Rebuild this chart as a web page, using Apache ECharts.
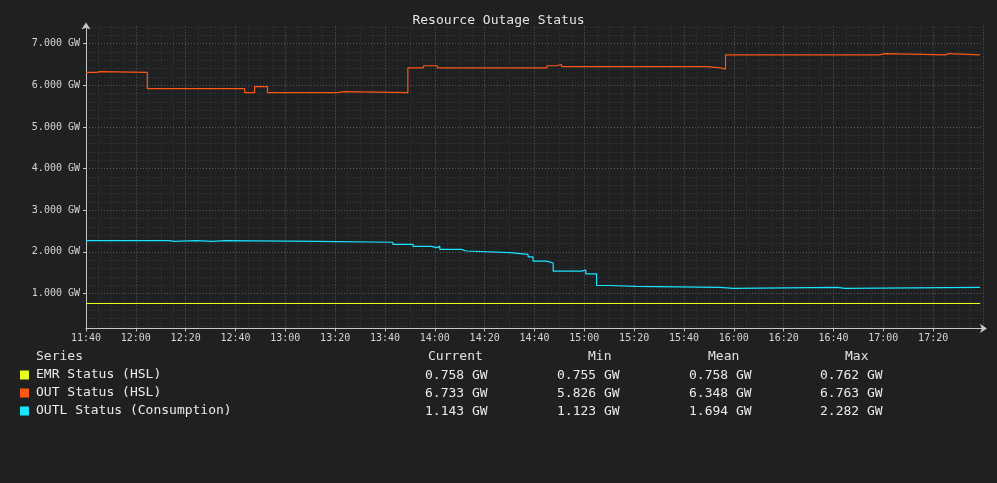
<!DOCTYPE html>
<html>
<head>
<meta charset="utf-8">
<script src="https://cdn.jsdelivr.net/npm/echarts@6/dist/echarts.min.js"></script>
<style>
html,body{margin:0;padding:0;background:#1f2022;}
#chart{width:997px;height:483px;}
</style>
</head>
<body>
<div id="chart"></div>
<script>
// ---- data ----
const seriesNames = ['EMR Status (HSL)', 'OUT Status (HSL)', 'OUTL Status (Consumption)'];
const seriesColors = ['#e8ff1c', '#ff5614', '#1ae4ff'];

const emrTimes  = ['11:40:00', '17:38:50'];
const emrValues = [0.758, 0.758];

const outTimes  = ['11:40:00','11:44:20','11:45:30','12:04:36','12:43:40','12:47:40','12:52:50','13:20:40','13:23:50',
                   '13:49:10','13:55:30','14:01:00','14:45:00','14:48:40','14:50:50','15:49:00','15:54:40','15:56:40',
                   '16:49:40','16:50:10','16:58:20','17:00:40','17:25:10','17:26:00','17:38:50'];
const outValues = [6.31, 6.33, 6.31, 5.92, 5.826, 5.97, 5.826, 5.85, 5.826,
                   6.42, 6.47, 6.42, 6.47, 6.50, 6.45, 6.42, 6.39, 6.733,
                   6.763, 6.733, 6.763, 6.733, 6.763, 6.733, 6.733];

const outlTimes  = ['11:40:00','11:59:40','12:00:20','12:04:36','12:05:20','12:13:20','12:15:20','12:24:10','12:30:50',
                    '12:35:40','13:12:30','13:43:10','13:51:15','13:58:40','14:00:40','14:02:00','14:10:40','14:12:40',
                    '14:30:05','14:37:25','14:39:25','14:44:50','14:47:30','14:58:50','15:00:35','15:04:55','15:10:15',
                    '15:21:00','15:54:25','15:59:50','16:41:30','16:44:35','17:38:50'];
const outlValues = [2.27, 2.26, 2.27, 2.282, 2.27, 2.25, 2.27, 2.25, 2.27,
                    2.25, 2.23, 2.18, 2.13, 2.10, 2.13, 2.06, 2.02, 1.98,
                    1.94, 1.88, 1.775, 1.73, 1.535, 1.56, 1.47, 1.19, 1.17,
                    1.145, 1.123, 1.145, 1.123, 1.145, 1.143];

const statHeaders = ['Current', 'Min', 'Mean', 'Max'];
const statCurrent = ['0.758 GW', '6.733 GW', '1.143 GW'];
const statMin     = ['0.755 GW', '5.826 GW', '1.123 GW'];
const statMean    = ['0.758 GW', '6.348 GW', '1.694 GW'];
const statMax     = ['0.762 GW', '6.763 GW', '2.282 GW'];

const yMajorTicks = [1, 2, 3, 4, 5, 6, 7];
const yMinorTicks = [0.2, 0.4, 0.6, 0.8, 1.2, 1.4, 1.6, 1.8, 2.2, 2.4, 2.6, 2.8, 3.2, 3.4, 3.6, 3.8,
                     4.2, 4.4, 4.6, 4.8, 5.2, 5.4, 5.6, 5.8, 6.2, 6.4, 6.6, 6.8, 7.2, 7.4];
const xStart = '11:40:00', xEnd = '17:40:00';

// ---- helpers ----
function toMin(s) { const p = s.split(':').map(Number); return p[0] * 60 + p[1] + (p[2] || 0) / 60; }
function pairs(ts, vs) { return ts.map((t, i) => [toMin(t), vs[i]]); }
function fmtTime(v) { const h = Math.floor(v / 60), m = Math.round(v - h * 60); return String(h).padStart(2, '0') + ':' + String(m).padStart(2, '0'); }

const FONT = 'DejaVu Sans Mono';
const chart = echarts.init(document.getElementById('chart'));

const colX = [425, 557, 689, 820];
const headerX = [428, 588, 708, 845];
const headerY = 357;
const rowY = [376, 394, 412];
const statCols = [statCurrent, statMin, statMean, statMax];
const graphics = [{ type: 'text', x: 36, y: headerY, style: { text: 'Series', font: '13px ' + FONT, fill: '#e2e2e2', verticalAlign: 'middle' } }];
statHeaders.forEach((h, i) => graphics.push({ type: 'text', x: headerX[i], y: headerY, style: { text: h, font: '13px ' + FONT, fill: '#e2e2e2', verticalAlign: 'middle' } }));
statCols.forEach((col, i) => col.forEach((txt, r) => graphics.push({ type: 'text', x: colX[i], y: rowY[r], style: { text: txt, font: '13px ' + FONT, fill: '#eaeaea', verticalAlign: 'middle' } })));

const yMin = 0.16, yMax = 7.415;

chart.setOption({
  backgroundColor: '#1f2022',
  animation: false,
  title: { text: 'Resource Outage Status', left: 'center', top: 9,
    textStyle: { fontFamily: FONT, fontSize: 13, fontWeight: 'normal', color: '#e4e4e4' } },
  legend: {
    data: seriesNames.map((n) => ({ name: n, icon: 'rect' })),
    orient: 'vertical', left: 20, top: 366, itemWidth: 9, itemHeight: 9, itemGap: 0, padding: 0,
    selectedMode: false,
    textStyle: { fontFamily: FONT, fontSize: 13, color: '#eaeaea', lineHeight: 14, padding: [4, 0, 0, 2] }
  },
  graphic: graphics,
  grid: { left: 86, right: 14, top: 26.4, bottom: 154.6, containLabel: false },
  xAxis: {
    type: 'value', min: toMin(xStart), max: toMin(xEnd), interval: 20,
    axisLine: { show: true, symbol: ['none', 'arrow'], symbolSize: [7, 7], symbolOffset: [0, 4], lineStyle: { color: '#c8c8c8', width: 1 } },
    axisTick: { show: true, length: 3, lineStyle: { color: '#c8c8c8' } },
    axisLabel: { formatter: fmtTime, fontFamily: FONT, fontSize: 10, color: '#d4d4d4', margin: 5, showMaxLabel: false },
    splitLine: { show: true, lineStyle: { color: '#5c5c5c', type: [1, 2], width: 1 } },
    minorTick: { show: false, splitNumber: 4 },
    minorSplitLine: { show: true, lineStyle: { color: '#383838', type: [1, 2], width: 1 } }
  },
  yAxis: [{
    type: 'value', min: yMin, max: yMax,
    axisLine: { show: true, symbol: ['none', 'arrow'], symbolSize: [7, 7], symbolOffset: [0, 4], lineStyle: { color: '#c8c8c8', width: 1 } },
    axisTick: { show: true, length: 3, customValues: yMajorTicks, lineStyle: { color: '#c8c8c8' } },
    axisLabel: { customValues: yMajorTicks, formatter: (v) => v.toFixed(3) + ' GW', fontFamily: FONT, fontSize: 10, color: '#d4d4d4', margin: 6 },
    splitLine: { show: true, lineStyle: { color: '#5c5c5c', type: [1, 2], width: 1 } }
  }, {
    type: 'value', min: yMin, max: yMax, position: 'left',
    axisLine: { show: false }, axisLabel: { show: false },
    axisTick: { show: false, customValues: yMinorTicks },
    splitLine: { show: true, lineStyle: { color: '#383838', type: [1, 2], width: 1 } }
  }],
  series: [
    { name: seriesNames[0], type: 'line', step: 'end', showSymbol: false, data: pairs(emrTimes, emrValues),
      lineStyle: { width: 1, color: seriesColors[0] }, itemStyle: { color: seriesColors[0] }, z: 3 },
    { name: seriesNames[1], type: 'line', step: 'end', showSymbol: false, data: pairs(outTimes, outValues),
      lineStyle: { width: 1.2, color: seriesColors[1] }, itemStyle: { color: seriesColors[1] }, z: 3 },
    { name: seriesNames[2], type: 'line', step: 'end', showSymbol: false, data: pairs(outlTimes, outlValues),
      lineStyle: { width: 1.2, color: seriesColors[2] }, itemStyle: { color: seriesColors[2] }, z: 3 }
  ]
});
</script>
</body>
</html>
